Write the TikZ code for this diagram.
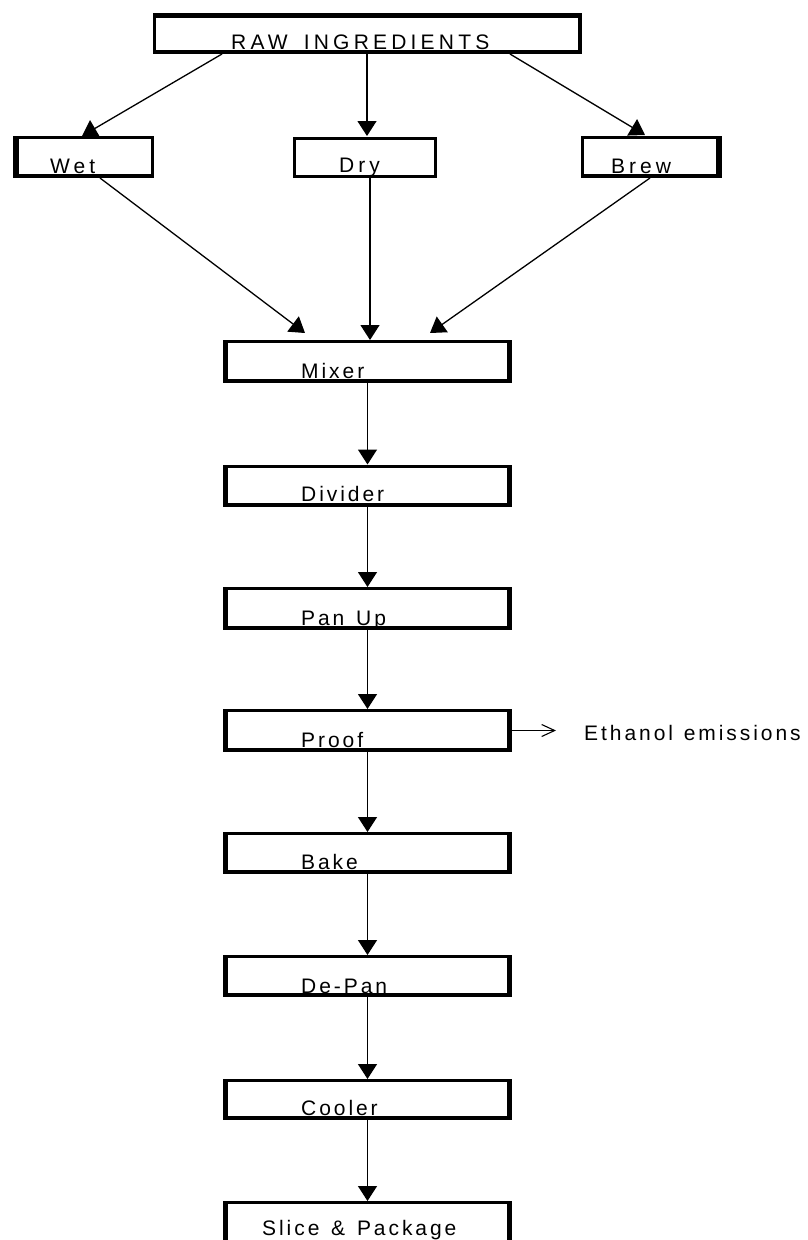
\documentclass[tikz,border=0pt]{standalone}
\usepackage{fontspec}
\usetikzlibrary{arrows.meta,calc}
\newfontfamily\lsf{Liberation Sans}[LetterSpace=14]
\newfontfamily\lsfw{Liberation Sans}[LetterSpace=19]
\newfontfamily\lsfr{Liberation Sans}[LetterSpace=20]
\tikzset{
  boxarea/.style={draw=none,inner sep=0pt,outer sep=0pt,rectangle},
  lbl/.style={anchor=base west,inner sep=0pt,font=\lsf\fontsize{21}{24}\selectfont},
  lblw/.style={anchor=base west,inner sep=0pt,font=\lsfw\fontsize{21}{24}\selectfont},
  lblr/.style={anchor=base west,inner sep=0pt,font=\lsfr\fontsize{21}{24}\selectfont},
  conn/.style={line width=1.3pt,-{Triangle[width=19pt,length=15pt]}},
  openarr/.style={line width=1.1pt,-{Straight Barb[width=12pt,length=13pt,line width=1.1pt]}}
}
% #1 name, #2 left, #3 right, #4 top, #5 bottom thickness
\newcommand\bordbox[5]{%
  \fill (#1.north west) rectangle ($(#1.south west)+(#2,0)$);
  \fill ($(#1.north east)+(-#3,0)$) rectangle (#1.south east);
  \fill (#1.north west) rectangle ($(#1.north east)+(0,#4)$);
  \fill ($(#1.south west)+(0,-#5)$) rectangle (#1.south east);
}
\begin{document}
\begin{tikzpicture}[x=1pt,y=-1pt]
\useasboundingbox (0,0) rectangle (808,1240);
\clip (0,0) rectangle (808,1240);
% box areas
\node[boxarea,minimum width=429pt,minimum height=41pt] (raw) at (367.5,33.5) {};
\node[boxarea,minimum width=141pt,minimum height=42pt] (wet) at (83.5,157) {};
\node[boxarea,minimum width=144pt,minimum height=41pt] (dry) at (365,157) {};
\node[boxarea,minimum width=141pt,minimum height=42pt] (brew) at (651.5,157) {};
\node[boxarea,minimum width=289pt,minimum height=43pt] (mixer) at (367.5,361.5) {};
\node[boxarea,minimum width=289pt,minimum height=42pt] (divider) at (367.5,485.5) {};
\node[boxarea,minimum width=289pt,minimum height=43pt] (panup) at (367.5,608.5) {};
\node[boxarea,minimum width=289pt,minimum height=43pt] (proof) at (367.5,730.5) {};
\node[boxarea,minimum width=289pt,minimum height=42pt] (bake) at (367.5,853) {};
\node[boxarea,minimum width=289pt,minimum height=42pt] (depan) at (367.5,976) {};
\node[boxarea,minimum width=289pt,minimum height=41pt] (cooler) at (367.5,1099.5) {};
\node[boxarea,minimum width=289pt,minimum height=60pt] (slice) at (367.5,1231) {};
% borders
\bordbox{raw}{3}{4}{5}{4}
\bordbox{wet}{6}{3}{3}{4}
\bordbox{dry}{3}{3}{3}{3}
\bordbox{brew}{3}{6}{3}{4}
\bordbox{mixer}{5}{5}{3}{4}
\bordbox{divider}{5}{5}{3}{4}
\bordbox{panup}{5}{5}{3}{4}
\bordbox{proof}{5}{5}{3}{4}
\bordbox{bake}{5}{5}{3}{4}
\bordbox{depan}{5}{5}{3}{4}
\bordbox{cooler}{5}{5}{3}{4}
\bordbox{slice}{5}{5}{3}{4}
% labels
\node[lblr] (rawt) at (231,49) {RAW\hspace*{6pt} INGREDIENTS};
\node[lblw] (wett) at (50,173) {Wet};
\node[lblw] (dryt) at (339,172) {Dry};
\node[lblw] (brewt) at (611,173) {Brew};
\node[lbl] (mixert) at (301,378) {Mixer};
\node[lbl] (dividert) at (301,501) {Divider};
\node[lbl] (panupt) at (301,625) {Pan\hspace*{3pt} Up};
\node[lbl] (prooft) at (301,747) {Proof};
\node[lbl] (baket) at (301,869) {Bake};
\node[lbl] (depant) at (301,993) {De-Pan};
\node[lbl] (coolert) at (301,1115) {Cooler};
\node[lbl] (slicet) at (262,1235) {Slice\hspace*{3pt} \&\hspace*{3pt} Package};
\node[lbl] (eth) at (584,740) {Ethanol\hspace*{2pt} emissions};
% connector end points
\coordinate (raw-w) at (222,54);
\coordinate (raw-d) at (367,54);
\coordinate (raw-b) at (510,54);
\coordinate (wet-in) at (82,136);
\coordinate (dry-in) at (367,136);
\coordinate (brew-in) at (645,135);
\coordinate (wet-out) at (100,178);
\coordinate (dry-out) at (370,178);
\coordinate (brew-out) at (650,178);
\coordinate (mix-l) at (305,333);
\coordinate (mix-m) at (370,340);
\coordinate (mix-r) at (430,333);
\coordinate (ethend) at (556,730.5);
% connectors
\draw[conn] (raw-w) -- (wet-in);
\draw[conn] (raw-d) -- (dry-in);
\draw[conn] (raw-b) -- (brew-in);
\draw[conn] (wet-out) -- (mix-l);
\draw[conn] (dry-out) -- (mix-m);
\draw[conn] (brew-out) -- (mix-r);
\draw[conn] (mixer.south) -- (divider.north);
\draw[conn] (divider.south) -- (panup.north);
\draw[conn] (panup.south) -- (proof.north);
\draw[conn] (proof.south) -- (bake.north);
\draw[conn] (bake.south) -- (depan.north);
\draw[conn] (depan.south) -- (cooler.north);
\draw[conn] (cooler.south) -- (slice.north);
\draw[openarr] (proof.east) -- (ethend);
\end{tikzpicture}
\end{document}
